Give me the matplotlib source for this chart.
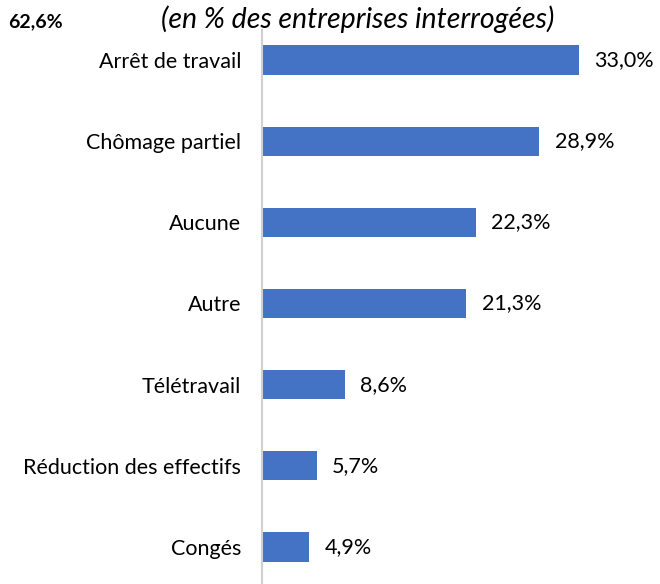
import matplotlib
matplotlib.use("Agg")
import matplotlib.pyplot as plt

categories = ["Congés", "Réduction des effectifs", "Télétravail", "Autre",
              "Aucune", "Chômage partiel", "Arrêt de travail"]
values = [4.9, 5.7, 8.6, 21.3, 22.3, 28.9, 33.0]
labels = ["4,9%", "5,7%", "8,6%", "21,3%", "22,3%", "28,9%", "33,0%"]

plt.rcParams["font.family"] = ["Lato", "DejaVu Sans"]

fig = plt.figure(figsize=(6.6, 5.84), dpi=100)
ax = fig.add_axes([262 / 660, 0, 384 / 660, 1 - 30 / 584])

pos = range(len(categories))
ax.barh(pos, values, height=0.36, color="#4472C4")
for p, v, lab in zip(pos, values, labels):
    ax.text(v + 1.6, p, lab, va="center", ha="left", fontsize=15.5, color="#000000")

ax.set_xlim(0, 40)
ax.set_ylim(-0.457, 6.37)
ax.set_yticks(list(pos))
ax.set_yticklabels(categories, fontsize=15.5)
ax.tick_params(axis="y", length=0, pad=15)
ax.set_xticks([])
for s in ["top", "right", "bottom"]:
    ax.spines[s].set_visible(False)
ax.spines["left"].set_color("#D0D0D0")
ax.spines["left"].set_linewidth(1.5)

fig.text(358 / 660, 1 - 19 / 584, "(en % des entreprises interrogées)",
         ha="center", va="center", fontsize=20.5, style="italic")
fig.text(8 / 660, 1 - 22 / 584, "62,6%", ha="left", va="center",
         fontsize=14, fontweight="bold")

fig.savefig("out.png", dpi=100)
